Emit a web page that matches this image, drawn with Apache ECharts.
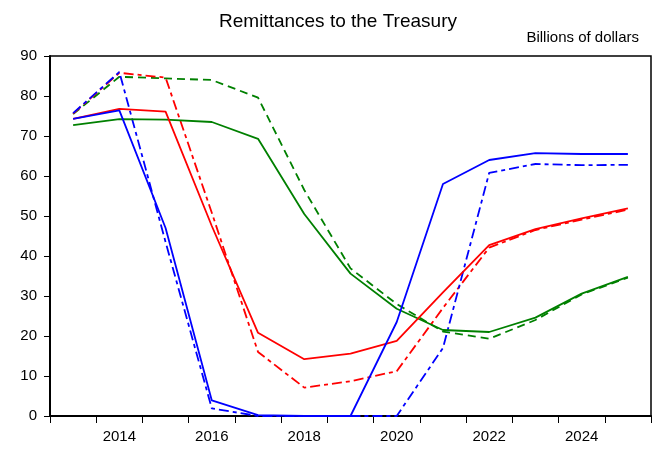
<!DOCTYPE html>
<html>
<head>
<meta charset="utf-8">
<script src="https://cdn.jsdelivr.net/npm/echarts@6/dist/echarts.min.js"></script>
<style>
  html, body { margin: 0; padding: 0; background: #fff; }
  #chart { width: 666px; height: 449px; }
</style>
</head>
<body>
<div id="chart"></div>
<script>
// Years on the horizontal axis
const years = ['2013','2014','2015','2016','2017','2018','2019','2020','2021','2022','2023','2024','2025'];

// Remittances to the Treasury, billions of dollars
const blueSolid  = [74.3, 76.4, 47.0, 3.9, 0.2, 0.0, 0.0, 23.5, 58.0, 64.0, 65.7, 65.5, 65.5];
const blueDashed = [75.7, 86.0, 43.5, 1.9, 0.0, 0.0, 0.0, 0.0, 17.0, 60.8, 63.0, 62.7, 62.8];
const redSolid   = [74.3, 76.8, 76.1, 47.5, 20.8, 14.2, 15.6, 18.8, 30.9, 42.7, 46.7, 49.4, 51.9];
const redDashed  = [75.6, 85.8, 84.6, 50.8, 16.0, 7.1, 8.7, 11.2, 27.0, 42.1, 46.5, 49.1, 51.6];
const greenSolid = [72.7, 74.2, 74.1, 73.5, 69.3, 50.5, 35.6, 26.8, 21.5, 21.0, 24.6, 30.6, 34.8];
const greenDashed= [75.5, 84.8, 84.4, 84.0, 79.6, 56.5, 36.9, 28.0, 21.1, 19.3, 24.0, 30.4, 34.6];

const yTicks = { min: 0, max: 90, step: 10 };

const FONT = '"Liberation Sans", Arial, sans-serif';

function line(name, data, color, dash) {
  return {
    name: name,
    type: 'line',
    data: data,
    symbol: 'none',
    animation: false,
    lineStyle: { color: color, width: 1.8, type: dash || 'solid' },
    z: dash ? 2 : 3
  };
}

const chart = echarts.init(document.getElementById('chart'), null, { renderer: 'canvas' });
chart.setOption({
  backgroundColor: '#fff',
  animation: false,
  title: [
    {
      text: 'Remittances to the Treasury',
      left: 333, top: 7, textAlign: 'center',
      textStyle: { fontFamily: FONT, fontSize: 19, fontWeight: 'normal', color: '#000' }
    },
    {
      text: 'Billions of dollars',
      right: 22, top: 25,
      textStyle: { fontFamily: FONT, fontSize: 15, fontWeight: 'normal', color: '#000' }
    }
  ],
  grid: {
    left: 50, right: 15, top: 56, bottom: 33,
    show: true, borderColor: '#000', borderWidth: 1.5, backgroundColor: 'transparent'
  },
  xAxis: {
    type: 'category',
    data: years,
    boundaryGap: true,
    axisLine: { lineStyle: { color: '#000', width: 2 } },
    axisTick: { show: true, interval: 0, length: 7, inside: false, lineStyle: { color: '#000', width: 1 } },
    axisLabel: {
      interval: function (index) { return index % 2 === 1; },
      fontFamily: FONT, fontSize: 15, color: '#000', margin: 13
    },
    splitLine: { show: false }
  },
  yAxis: {
    type: 'value',
    min: yTicks.min, max: yTicks.max, interval: yTicks.step,
    axisLine: { show: true, lineStyle: { color: '#000', width: 2 } },
    axisTick: { show: true, length: 6, lineStyle: { color: '#000', width: 1 } },
    axisLabel: { fontFamily: FONT, fontSize: 15, color: '#000', margin: 13 },
    splitLine: { show: false }
  },
  series: [
    line('Green (alt.)', greenDashed, '#008000', [8, 5]),
    line('Green', greenSolid, '#008000'),
    line('Red (alt.)', redDashed, '#ff0000', [10, 4, 4, 4]),
    line('Red', redSolid, '#ff0000'),
    line('Blue (alt.)', blueDashed, '#0000ff', [10, 4, 4, 4]),
    line('Blue', blueSolid, '#0000ff')
  ]
});
</script>
</body>
</html>
